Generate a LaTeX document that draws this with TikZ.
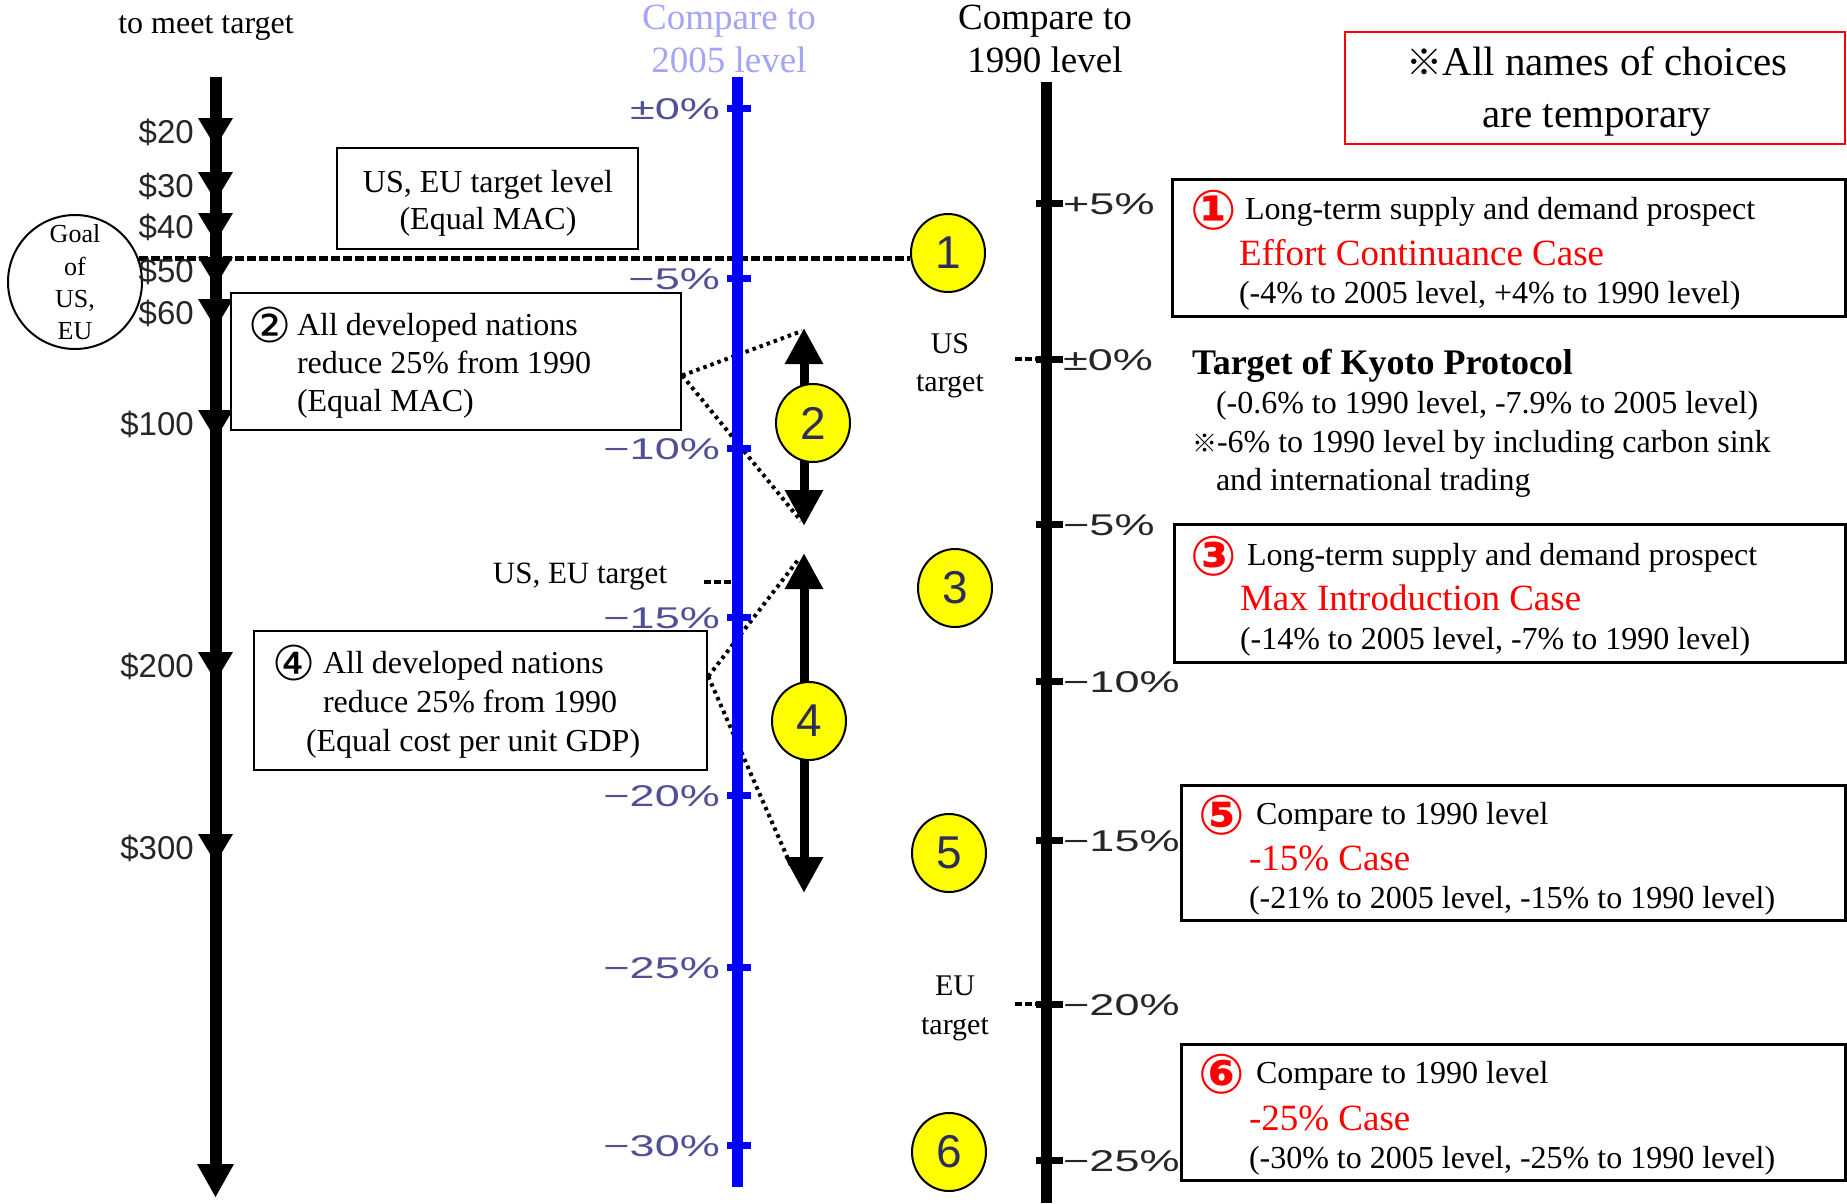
\documentclass[tikz,border=0pt]{standalone}
\usepackage{fontspec}
\setmainfont{Liberation Serif}
\newfontfamily\tickfont[FakeStretch=1.5]{Liberation Sans}
\newfontfamily\dolfont{Liberation Sans}
\newfontfamily\symfont{DejaVu Sans}
\newfontfamily\cjkfont{Noto Sans CJK JP}
\usetikzlibrary{shapes.geometric,arrows.meta,calc}
\pgfdeclarelayer{bg}
\pgfsetlayers{bg,main}
\newcommand{\setfs}[1]{\fontsize{#1}{#1}\selectfont}
\definecolor{blueax}{RGB}{0,0,255}
\definecolor{bluelab}{RGB}{80,80,150}
\definecolor{lavender}{RGB}{165,165,245}
\definecolor{navy}{RGB}{45,45,90}
\definecolor{ylw}{RGB}{255,255,0}
\definecolor{redc}{RGB}{255,0,0}
\tikzset{
  txt/.style={inner sep=0pt, outer sep=0pt, font=\setfs{32}},
  lt/.style={txt, anchor=base west},
  ct/.style={txt, anchor=base},
  redt/.style={lt, text=redc, font=\setfs{37}},
  sym/.style={lt, font=\symfont\bfseries\setfs{55}},
  casebox/.style={rectangle, draw=black, line width=3pt, fill=white, inner sep=0pt},
  yc/.style={ellipse, draw=black, line width=2pt, fill=ylw, minimum width=74pt, minimum height=78pt, inner sep=0pt, font=\dolfont\setfs{46}, text=navy},
  blab/.style={inner sep=0pt, anchor=base east, font=\tickfont\setfs{30}, text=bluelab},
  klab/.style={inner sep=0pt, anchor=base west, font=\tickfont\setfs{30}, text=black!85},
  dlab/.style={inner sep=0pt, anchor=base east, font=\dolfont\setfs{33}, text=black!85},
  maindash/.style={line width=5pt, dash pattern=on 9pt off 3pt},
  shortdash/.style={line width=4.5pt, dash pattern=on 7pt off 3pt},
  dotline/.style={line width=4pt, dash pattern=on 3.5pt off 4pt},
  bigarrow/.style={line width=9pt, {Triangle[length=36pt,width=36pt]}-{Triangle[length=36pt,width=36pt]}},
}
\begin{document}
\begin{tikzpicture}[x=1pt,y=-1pt]
\useasboundingbox (0,0) rectangle (1847,1203);
\begin{pgfonlayer}{bg}
  \fill[white] (0,0) rectangle (1847,1203);
\end{pgfonlayer}

% ---------- top headings
\node[ct] (meet) at (206,33) {to meet target};
\node[ct, font=\setfs{37}, text=lavender] (c05a) at (729,29) {Compare to};
\node[ct, font=\setfs{37}, text=lavender] (c05b) at (729,72) {2005 level};
\node[ct, font=\setfs{37}] (c90a) at (1045,29) {Compare to};
\node[ct, font=\setfs{37}] (c90b) at (1045,72) {1990 level};

% ---------- goal circle
\node[circle, draw=black, line width=2pt, minimum size=134pt, inner sep=0pt, fill=white] (goal) at (75,282) {};
\node[ct, font=\setfs{26}] (g1) at (75,242) {Goal};
\node[ct, font=\setfs{26}] (g2) at (75,275) {of};
\node[ct, font=\setfs{26}] (g3) at (75,307) {US,};
\node[ct, font=\setfs{26}] (g4) at (75,339) {EU};

% ---------- dollar ticks on left axis
\foreach \v/\y in {20/132,30/186,40/227,50/271,60/313,100/424,200/666,300/848}{
  \node[dlab] (d\v) at (194,\y+11) {\$\v};
  \fill (198,\y-14) -- (233,\y-14) -- (215.5,\y+15) -- cycle;
}
\fill (197,1164) -- (234,1164) -- (215.5,1197) -- cycle;

% ---------- boxes on the left
\node[casebox, line width=2.5pt, minimum width=301pt, minimum height=101pt] (bus) at (487.5,198.5) {};
\node[ct] (bus1) at (488,192) {US, EU target level};
\node[ct] (bus2) at (488,229) {(Equal MAC)};

\node[casebox, line width=2.5pt, minimum width=450pt, minimum height=137pt] (b2) at (456,361.5) {};
\node[sym, font=\symfont\setfs{48}] (b2n) at (248,342) {②};
\node[lt] (b2a) at (297,335) {All developed nations};
\node[lt] (b2b) at (297,373) {reduce 25\% from 1990};
\node[lt] (b2c) at (297,411) {(Equal MAC)};

\node[casebox, line width=2.5pt, minimum width=453pt, minimum height=139pt] (b4) at (480.5,700.5) {};
\node[sym, font=\symfont\setfs{48}] (b4n) at (272,680) {④};
\node[lt] (b4a) at (323,673) {All developed nations};
\node[lt] (b4b) at (323,712) {reduce 25\% from 1990};
\node[lt] (b4c) at (306,751) {(Equal cost per unit GDP)};

\node[ct, font=\setfs{31}] (useu) at (580,583) {US, EU target};

% ---------- blue axis labels
\node[blab] (p0) at (720,119) {±0\%};
\node[blab] (p5) at (720,289) {−5\%};
\node[blab] (p10) at (720,459) {−10\%};
\node[blab] (p15) at (720,628) {−15\%};
\node[blab] (p20) at (720,806) {−20\%};
\node[blab] (p25) at (720,978) {−25\%};
\node[blab] (p30) at (720,1156) {−30\%};

% ---------- black axis labels
\node[klab] (k5) at (1063,214) {+5\%};
\node[klab] (k0) at (1063,370) {±0\%};
\node[klab] (km5) at (1063,535) {−5\%};
\node[klab] (km10) at (1063,692) {−10\%};
\node[klab] (km15) at (1063,851) {−15\%};
\node[klab] (km20) at (1063,1015) {−20\%};
\node[klab] (km25) at (1063,1171) {−25\%};

\node[ct, font=\setfs{30}] (ust1) at (950,353) {US};
\node[ct, font=\setfs{30}] (ust2) at (950,391) {target};
\node[ct, font=\setfs{30}] (eut1) at (955,995) {EU};
\node[ct, font=\setfs{30}] (eut2) at (955,1034) {target};

% ---------- yellow circles
\node[yc] (c1) at (948,253) {1};
\node[yc] (c2) at (813,423) {2};
\node[yc] (c3) at (955,588) {3};
\node[yc] (c4) at (809,721) {4};
\node[yc] (c5) at (949,853) {5};
\node[yc] (c6) at (949,1152) {6};

% ---------- right side
\node[rectangle, draw=redc, line width=2pt, inner sep=0pt, minimum width=500pt, minimum height=112pt] (rb) at (1595,88) {};
\node[ct, font=\setfs{41}] (rb1) at (1597,75) {{\cjkfont\setfs{36}※}All names of choices};
\node[ct, font=\setfs{41}] (rb2) at (1597,127) {are temporary};

\node[casebox, minimum width=673pt, minimum height=137pt] (b1) at (1508.5,247.5) {};
\node[sym, text=redc] (b1n) at (1190,229) {①};
\node[lt] (b1a) at (1245,219) {Long-term supply and demand prospect};
\node[redt] (b1b) at (1239,265) {Effort Continuance Case};
\node[lt] (b1c) at (1239,303) {(-4\% to 2005 level, +4\% to 1990 level)};

\node[lt, font=\bfseries\setfs{36}] (ky1) at (1192,374) {Target of Kyoto Protocol};
\node[lt] (ky2) at (1216,413) {(-0.6\% to 1990 level, -7.9\% to 2005 level)};
\node[lt] (ky3) at (1192,452) {{\cjkfont\setfs{25}※}-6\% to 1990 level by including carbon sink};
\node[lt] (ky4) at (1216,490) {and international trading};

\node[casebox, minimum width=671pt, minimum height=138pt] (b3) at (1509.5,593) {};
\node[sym, text=redc] (b3n) at (1190,575) {③};
\node[lt] (b3a) at (1247,565) {Long-term supply and demand prospect};
\node[redt] (b3b) at (1240,610) {Max Introduction Case};
\node[lt] (b3c) at (1240,649) {(-14\% to 2005 level, -7\% to 1990 level)};

\node[casebox, minimum width=664pt, minimum height=135pt] (b5) at (1513,852.5) {};
\node[sym, text=redc] (b5n) at (1198,834) {⑤};
\node[lt] (b5a) at (1256,824) {Compare to 1990 level};
\node[redt] (b5b) at (1249,870) {-15\% Case};
\node[lt] (b5c) at (1249,908) {(-21\% to 2005 level, -15\% to 1990 level)};

\node[casebox, minimum width=664pt, minimum height=136pt] (b6) at (1513,1112) {};
\node[sym, text=redc] (b6n) at (1198,1093) {⑥};
\node[lt] (b6a) at (1256,1083) {Compare to 1990 level};
\node[redt] (b6b) at (1249,1130) {-25\% Case};
\node[lt] (b6c) at (1249,1168) {(-30\% to 2005 level, -25\% to 1990 level)};

% ---------- coordinates for arrows and connectors
\coordinate (a2t) at (804,328);
\coordinate (a2b) at (804,526);
\coordinate (a4t) at (804,553);
\coordinate (a4b) at (804,893);
\coordinate (d2t) at (802,331);
\coordinate (d2b) at (801,521);
\coordinate (d4t) at (798,560);
\coordinate (d4b) at (792,868);
\coordinate (b2r) at ($(b2.north east)!0.6!(b2.south east)$);
\coordinate (b4r) at ($(b4.north east)!0.33!(b4.south east)$);
\coordinate (useuA) at (704,582);
\coordinate (useuB) at (731,582);
\coordinate (ustA) at (1015,359);
\coordinate (ustB) at (1041,359);
\coordinate (eutA) at (1015,1004);
\coordinate (eutB) at (1041,1004);

\begin{pgfonlayer}{bg}
  % main dashed line
  \draw[maindash] (goal.20) -- (goal.20 -| c1.west);
  % dotted connectors
  \draw[dotline] (b2r) -- (d2t);
  \draw[dotline] (b2r) -- (d2b);
  \draw[dotline] (b4r) -- (d4t);
  \draw[dotline] (b4r) -- (d4b);
  % short dashes
  \draw[shortdash] (useuA) -- (useuB);
  \draw[shortdash] (ustA) -- (ustB);
  \draw[shortdash] (eutA) -- (eutB);
  % left axis
  \draw[line width=12pt] (215.5,77) -- (215.5,1167);
  % blue axis
  \draw[blueax, line width=11pt] (737,77) -- (737,1187);
  \foreach \y in {108,278,448,617,795,967,1145}
    \draw[blueax, line width=7pt] (727,\y) -- (751,\y);
  % black axis
  \draw[line width=11pt] (1046,82) -- (1046,1203);
  \foreach \y in {203,359,524,681,840,1004,1160}
    \draw[line width=7pt] (1036,\y) -- (1063,\y);
  % double arrows
  \draw[bigarrow] (a2t) -- (a2b);
  \draw[bigarrow] (a4t) -- (a4b);
\end{pgfonlayer}
\end{tikzpicture}
\end{document}
